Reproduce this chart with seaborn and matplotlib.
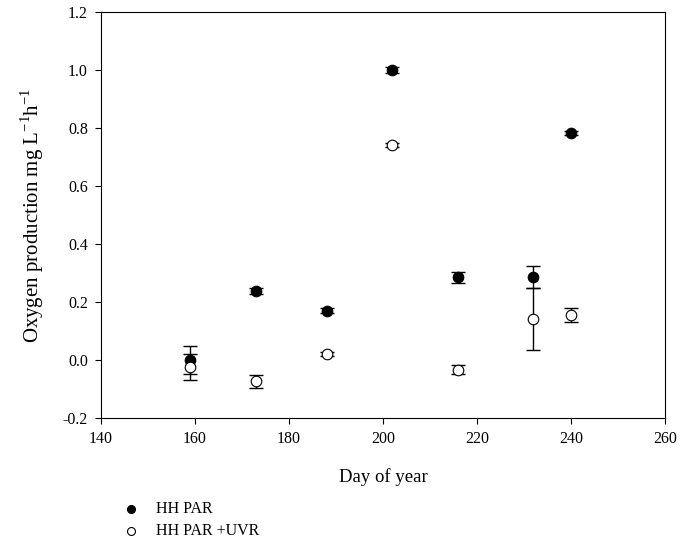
import matplotlib
matplotlib.use("Agg")
import matplotlib.pyplot as plt
import seaborn as sns
import pandas as pd

days = [159, 173, 188, 202, 216, 232, 240]
par = [0.0, 0.238, 0.17, 1.0, 0.285, 0.285, 0.782]
par_err = [0.048, 0.012, 0.008, 0.01, 0.018, 0.038, 0.006]
uvr = [-0.024, -0.073, 0.02, 0.742, -0.033, 0.14, 0.155]
uvr_err = [0.045, 0.022, 0.006, 0.006, 0.016, 0.107, 0.025]
series_names = ["HH PAR", "HH PAR +UVR"]

sns.set_style("ticks")
plt.rcParams["font.family"] = ["Liberation Serif", "DejaVu Serif"]
plt.rcParams["mathtext.fontset"] = "custom"
plt.rcParams["mathtext.rm"] = "Liberation Serif"
plt.rcParams["text.color"] = "black"
plt.rcParams["axes.labelcolor"] = "black"
plt.rcParams["xtick.color"] = "black"
plt.rcParams["ytick.color"] = "black"

fig = plt.figure(figsize=(6.8, 5.46), dpi=100)
ax = fig.add_axes([0.1485, 0.2344, 0.8295, 0.7436])

df1 = pd.DataFrame({"day": days, "val": par})
df2 = pd.DataFrame({"day": days, "val": uvr})

ax.errorbar(days, par, yerr=par_err, fmt="none", ecolor="black", elinewidth=1.0,
            capsize=5, capthick=1.0, zorder=2)
ax.errorbar(days, uvr, yerr=uvr_err, fmt="none", ecolor="black", elinewidth=1.0,
            capsize=5, capthick=1.0, zorder=2)
sns.scatterplot(data=df1, x="day", y="val", ax=ax, marker="o", s=58, color="black",
                edgecolor="black", linewidth=0.8, label=series_names[0], zorder=3)
sns.scatterplot(data=df2, x="day", y="val", ax=ax, marker="o", s=58, color="white",
                edgecolor="black", linewidth=0.8, label=series_names[1], zorder=3)

ax.set_xlim(140, 260)
ax.set_ylim(-0.2, 1.2)
ax.set_xticks([140, 160, 180, 200, 220, 240, 260])
ax.set_yticks([-0.2, 0.0, 0.2, 0.4, 0.6, 0.8, 1.0, 1.2])
ax.set_yticklabels(["-0.2", "0.0", "0.2", "0.4", "0.6", "0.8", "1.0", "1.2"])
ax.tick_params(axis="both", direction="out", length=4.5, width=0.8, labelsize=11.5, pad=5,
               colors="black")
for s in ax.spines.values():
    s.set_linewidth(0.8)
    s.set_color("black")

ax.set_xlabel("Day of year", fontsize=13.5, labelpad=15, color="black")
ax.set_ylabel(r"Oxygen production mg L$^{\mathregular{-1}}$h$^{\mathregular{-1}}$",
              fontsize=15, labelpad=12, color="black")

leg = ax.legend(loc="upper left", bbox_to_anchor=(0.169, 0.082), bbox_transform=fig.transFigure,
                frameon=False, fontsize=11.5, handletextpad=0.6, labelspacing=0.35,
                markerscale=0.75, borderaxespad=0, borderpad=0)
for t in leg.get_texts():
    t.set_color("black")

fig.savefig("out.png", dpi=100)
